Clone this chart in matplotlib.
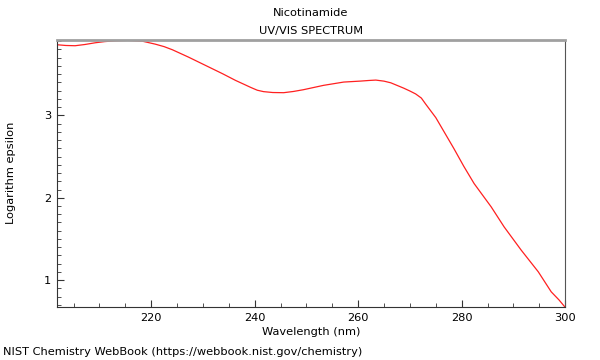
import matplotlib
matplotlib.use("Agg")
import matplotlib.pyplot as plt
from matplotlib.ticker import MultipleLocator

wavelength = [201.8, 203.5, 205.3, 207.2, 209.2, 211.0, 213.0, 215.5, 218.3, 220.8,
              222.5, 224.1, 227.2, 230.5, 233.8, 236.3, 238.0, 239.2, 240.5, 241.7,
              243.5, 245.6, 247.5, 249.4, 253.3, 257.2, 260.5, 262.0, 263.4, 265.0,
              266.3, 268.8, 270.0, 271.1, 272.2, 273.0, 275.0, 278.5, 280.4, 282.4,
              285.7, 288.2, 291.5, 294.8, 297.3, 298.8, 300.0]
log_eps = [3.857, 3.848, 3.845, 3.860, 3.881, 3.895, 3.905, 3.910, 3.900, 3.864,
           3.834, 3.796, 3.707, 3.606, 3.505, 3.424, 3.375, 3.340, 3.305, 3.288,
           3.277, 3.275, 3.290, 3.311, 3.364, 3.404, 3.416, 3.423, 3.428, 3.415,
           3.395, 3.330, 3.295, 3.260, 3.210, 3.140, 2.972, 2.596, 2.382, 2.172,
           1.889, 1.646, 1.364, 1.101, 0.858, 0.760, 0.670]

fs = 8.2
fig = plt.figure(figsize=(6, 3.6), dpi=100)
ax = fig.add_axes([0.095, 0.147, 0.847, 0.742])
ax.plot(wavelength, log_eps, color="#ff2020", lw=0.9)
ax.set_xlim(201.8, 300)
ax.set_ylim(0.673, 3.915)
ax.xaxis.set_major_locator(MultipleLocator(20))
ax.xaxis.set_minor_locator(MultipleLocator(5))
ax.yaxis.set_major_locator(MultipleLocator(1))
ax.yaxis.set_minor_locator(MultipleLocator(0.1))
ax.tick_params(which="both", direction="in", top=False, right=False, labelsize=fs, color="#333333")
ax.tick_params(which="major", length=5, pad=4)
ax.tick_params(which="minor", length=3)
ax.spines["top"].set_color("#a0a0a0")
ax.spines["top"].set_linewidth(2)
ax.spines["right"].set_color("#555555")
ax.spines["left"].set_color("#333333")
ax.spines["bottom"].set_color("#333333")
ax.set_xlabel("Wavelength (nm)", fontsize=fs, labelpad=3)
fig.text(0.018, 0.52, "Logarithm epsilon", ha="center", va="center", rotation=90, fontsize=fs)
fig.text(0.518, 0.963, "Nicotinamide", ha="center", va="center", fontsize=fs)
fig.text(0.518, 0.915, "UV/VIS SPECTRUM", ha="center", va="center", fontsize=fs)
fig.text(0.005, 0.022, "NIST Chemistry WebBook (https://webbook.nist.gov/chemistry)", ha="left", va="center", fontsize=fs)
fig.savefig("out.png", dpi=100)
